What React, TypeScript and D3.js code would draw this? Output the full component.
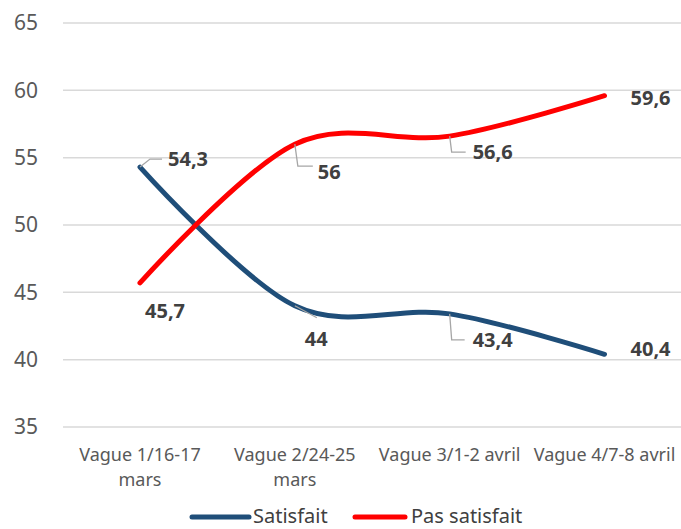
import * as React from 'react'
import {scaleLinear, scalePoint, line, curveCardinal} from 'd3'

// données
const categories = [['Vague 1/16-17', 'mars'], ['Vague 2/24-25', 'mars'], ['Vague 3/1-2 avril'], ['Vague 4/7-8 avril']]
const satisfait = [54.3, 44, 43.4, 40.4]
const pasSatisfait = [45.7, 56, 56.6, 59.6]
const yTicks = [35, 40, 45, 50, 55, 60, 65]
const seriesNames = ['Satisfait', 'Pas satisfait']

const W = 681
const H = 529
const FONT = '"Noto Sans", sans-serif'

// position des étiquettes (décalage par rapport au point) + repère éventuel
const blueLabels = [
  {dx: 28, dy: -8, leader: [[0, 0], [10, -8], [22, -8]]},
  {dx: 10, dy: 33, leader: [[0, 0], [22, 12]]},
  {dx: 23, dy: 26, leader: [[0, 0], [2, 26], [15, 26]]},
  {dx: 26, dy: -5, leader: null},
]
const redLabels = [
  {dx: 5, dy: 28, leader: null},
  {dx: 23, dy: 28, leader: [[0, 0], [3, 22], [18, 22]]},
  {dx: 23, dy: 16, leader: [[0, 0], [2, 16], [16, 16]]},
  {dx: 26, dy: 2, leader: null},
]

const fmt = (v: number) => String(v).replace('.', ',')

export default function App() {
  const x = scalePoint<number>().domain(categories.map((_, i) => i)).range([140, 604.5])
  const y = scaleLinear().domain([35, 65]).range([427, 23])
  const path = line<number>().x((_, i) => x(i) as number).y(d => y(d)).curve(curveCardinal.tension(0))

  const series = [
    {values: satisfait, color: '#1F4E79', labels: blueLabels},
    {values: pasSatisfait, color: '#FF0000', labels: redLabels},
  ]

  return (
    <svg width={W} height={H} style={{position: 'fixed', left: 0, top: 0, background: '#fff'}} fontFamily={FONT}>
      {yTicks.map(t => (
        <g key={t}>
          <line x1={63} x2={681} y1={y(t)} y2={y(t)} stroke="#D9D9D9" strokeWidth={1.5} />
          <text x={38} y={y(t)} dy="0.35em" textAnchor="end" fontSize={21} fill="#595959">{t}</text>
        </g>
      ))}
      {categories.map((c, i) => (
        <text key={i} x={x(i)} y={461} textAnchor="middle" fontSize={18} fill="#595959">
          {c.map((s, j) => <tspan key={j} x={x(i)} dy={j === 0 ? 0 : 25}>{s}</tspan>)}
        </text>
      ))}
      {series.map((s, si) => (
        <path key={si} d={path(s.values) || ''} fill="none" stroke={s.color} strokeWidth={5} strokeLinecap="round" />
      ))}
      {series.map((s, si) => s.values.map((v, i) => {
        const px = x(i) as number
        const py = y(v)
        const lb = s.labels[i]
        return (
          <g key={si + '-' + i}>
            {lb.leader && (
              <polyline points={lb.leader.map(p => `${px + p[0]},${py + p[1]}`).join(' ')} fill="none" stroke="#A6A6A6" strokeWidth={1.3} />
            )}
            <text x={px + lb.dx} y={py + lb.dy} dy="0.35em" fontSize={20} fontWeight="bold" fill="#404040">{fmt(v)}</text>
          </g>
        )
      }))}
      {/* légende */}
      <line x1={192} x2={249} y1={517} y2={517} stroke={series[0].color} strokeWidth={5} strokeLinecap="round" />
      <text x={253} y={516} dy="0.35em" fontSize={20} fill="#404040">{seriesNames[0]}</text>
      <line x1={355} x2={405} y1={517} y2={517} stroke={series[1].color} strokeWidth={5} strokeLinecap="round" />
      <text x={411} y={516} dy="0.35em" fontSize={20} fill="#404040">{seriesNames[1]}</text>
    </svg>
  )
}
